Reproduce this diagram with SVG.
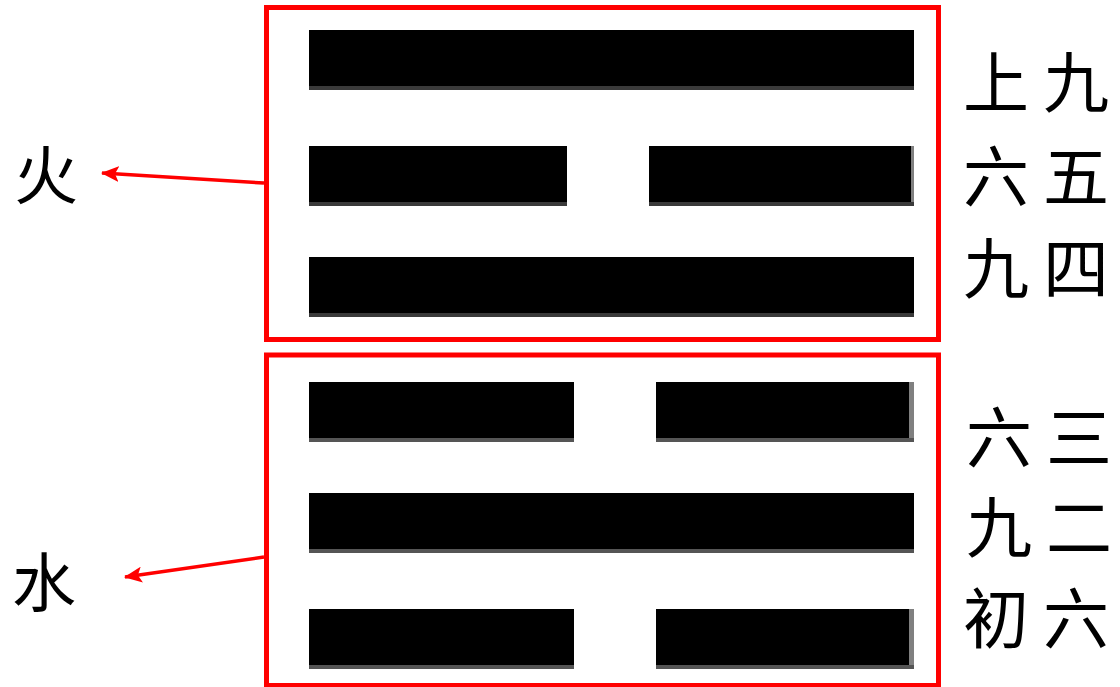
<svg xmlns="http://www.w3.org/2000/svg" width="1120" height="687" viewBox="0 0 1120 687">
  <defs>
    <marker id="arrow" markerUnits="userSpaceOnUse" markerWidth="18" markerHeight="16" refX="17" refY="8" orient="auto">
      <path d="M0,0 L18,8 L0,16 L4,8 z" fill="#ff0000"/>
    </marker>
  </defs>
  <style>
    .box{fill:none;stroke:#ff0000;stroke-width:5}
    .bar{fill:#000}
    .sh{fill:#3a3a3a}
    .sh2{fill:#555}
    .edge{fill:#808080}
    .lbl{font-family:"Noto Sans CJK SC","Noto Sans CJK TC",sans-serif;font-size:66px;fill:#000}
    .big{font-family:"Noto Sans CJK SC","Noto Sans CJK TC",sans-serif;font-size:64px;fill:#000}
    .arr{stroke:#ff0000;stroke-width:3.5;fill:none}
  </style>
  <rect width="1120" height="687" fill="#ffffff"/>

  <g id="fire-trigram">
    <rect class="box" x="266.5" y="7.5" width="672" height="332"/>
    <rect class="sh" x="309" y="86" width="605" height="4"/>
    <rect class="bar" x="309" y="30" width="605" height="56"/>
    <rect class="sh" x="309" y="202" width="258" height="4"/>
    <rect class="bar" x="309" y="146" width="258" height="56"/>
    <rect class="sh" x="649" y="202" width="265" height="4"/>
    <rect class="bar" x="649" y="146" width="262" height="56"/>
    <rect class="edge" x="911" y="146" width="3" height="56"/>
    <rect class="sh" x="309" y="313" width="605" height="4"/>
    <rect class="bar" x="309" y="257" width="605" height="56"/>
  </g>

  <g id="water-trigram">
    <rect class="box" x="266.5" y="355" width="672" height="330.5"/>
    <rect class="sh2" x="309" y="438" width="265" height="4"/>
    <rect class="bar" x="309" y="382" width="265" height="56"/>
    <rect class="sh2" x="656" y="438" width="258" height="4"/>
    <rect class="bar" x="656" y="382" width="253" height="56"/>
    <rect class="edge" x="909" y="382" width="5" height="56"/>
    <rect class="sh2" x="309" y="549" width="605" height="4"/>
    <rect class="bar" x="309" y="493" width="605" height="56"/>
    <rect class="sh2" x="309" y="665" width="265" height="4"/>
    <rect class="bar" x="309" y="609" width="265" height="56"/>
    <rect class="sh2" x="656" y="665" width="258" height="4"/>
    <rect class="bar" x="656" y="609" width="253" height="56"/>
    <rect class="edge" x="909" y="609" width="5" height="56"/>
  </g>

  <g id="label-fire">
    <text class="big" x="14" y="199">火</text>
  </g>
  <g id="label-water">
    <text class="big" x="12" y="606">水</text>
  </g>

  <g id="line-labels">
    <text class="lbl" x="963" y="107">上</text>
    <text class="lbl" x="1043" y="107">九</text>
    <text class="lbl" x="963" y="201">六</text>
    <text class="lbl" x="1043" y="201">五</text>
    <text class="lbl" x="963" y="293">九</text>
    <text class="lbl" x="1043" y="293">四</text>
    <text class="lbl" x="966" y="462">六</text>
    <text class="lbl" x="1046" y="462">三</text>
    <text class="lbl" x="966" y="552">九</text>
    <text class="lbl" x="1046" y="552">二</text>
    <text class="lbl" x="963" y="643">初</text>
    <text class="lbl" x="1043" y="643">六</text>
  </g>

  <g id="connectors">
    <line class="arr" x1="264" y1="183" x2="102" y2="173" marker-end="url(#arrow)"/>
    <line class="arr" x1="264" y1="557" x2="125" y2="577" marker-end="url(#arrow)"/>
  </g>
</svg>
